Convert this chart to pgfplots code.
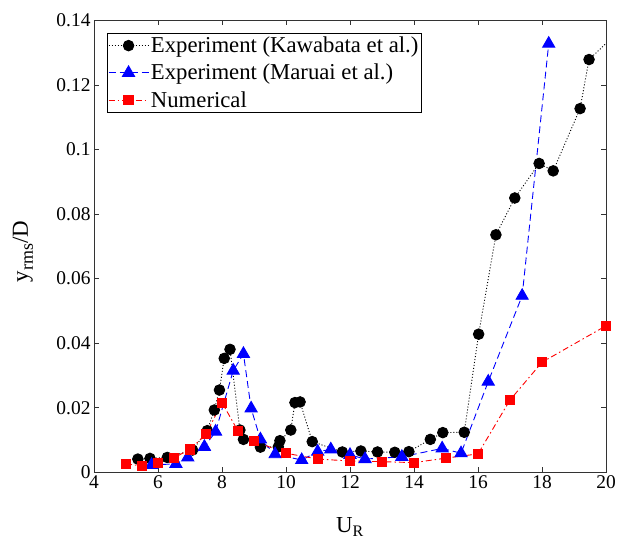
\documentclass[border=0pt]{standalone}
\usepackage{fontspec}
\setmainfont{Liberation Serif}
\usepackage{pgfplots}
\pgfplotsset{compat=1.18}

% Response amplitude of the cylinder against reduced velocity
\pgfplotstableread{
x y
5.37 0.0041
5.75 0.0043
6.29 0.0046
7.08 0.0069
7.54 0.0129
7.76 0.0193
7.92 0.0255
8.07 0.0353
8.25 0.0381
8.56 0.0131
8.67 0.0102
9.20 0.0078
9.76 0.0079
9.81 0.0098
10.15 0.0131
10.28 0.0216
10.44 0.0218
10.82 0.0095
11.76 0.0063
12.34 0.0066
12.86 0.0063
13.40 0.0062
13.84 0.0064
14.51 0.0102
14.90 0.0123
15.57 0.0124
16.02 0.0428
16.56 0.0736
17.15 0.0850
17.91 0.0957
18.35 0.0934
19.19 0.1127
19.47 0.1279
}\kawabata

\pgfplotstableread{
x y
5.80 0.0023
6.56 0.0026
6.93 0.0046
7.45 0.0079
7.80 0.0126
8.35 0.0315
8.67 0.0367
8.91 0.0198
9.20 0.0102
9.66 0.0056
10.49 0.0038
10.99 0.0064
11.40 0.0071
12.00 0.0054
12.47 0.0041
13.62 0.0048
14.88 0.0074
15.47 0.0059
16.32 0.0281
17.38 0.0547
18.21 0.1328
}\maruai

\pgfplotstableread{
x y
5.0 0.0026
5.5 0.0020
6.0 0.0028
6.5 0.0045
7.0 0.0071
7.5 0.0118
8.0 0.0216
8.5 0.0128
9.0 0.0097
10.0 0.0059
11.0 0.0041
12.0 0.0035
13.0 0.0033
14.0 0.0030
15.0 0.0044
16.0 0.0057
17.0 0.0224
18.0 0.0341
20.0 0.0454
}\numerical

\begin{document}
\begin{tikzpicture}
\begin{axis}[
  at={(0,0)}, anchor=south west,
  scale only axis,
  width=512bp, height=451.8bp,
  xmin=4, xmax=20, ymin=0, ymax=0.14,
  xtick={4,6,...,20},
  ytick={0,0.02,0.04,0.06,0.08,0.1,0.12,0.14},
  yticklabels={0,0.02,0.04,0.06,0.08,0.1,0.12,0.14},
  tick align=inside,
  major tick length=5bp,
  xtick pos=both, ytick pos=both,
  axis line style={line width=0.6bp, black!80},
  tick style={line width=0.6bp, black!80},
  /pgf/number format/assume math mode=true,
  tick label style={font=\fontsize{19.5}{22}\selectfont},
  label style={font=\fontsize{23}{26}\selectfont},
  xlabel={U\textsubscript{R}},
  ylabel={y{\fontsize{18}{18}\selectfont\raisebox{-5bp}{rms}}/D},
  xlabel style={at={(axis description cs:0.5,-0.1328)}, anchor=base},
  ylabel style={at={(axis description cs:-0.1289,0.489)}, anchor=base},
  legend style={
    at={(axis description cs:0.025,0.973)}, anchor=north west,
    font=\fontsize{22.8}{25}\selectfont,
    draw=black, line width=0.6bp,
    inner xsep=1bp, inner ysep=2bp,
    row sep=6bp,
    cells={anchor=west},
  },
  legend image code/.code={
    \draw[mark repeat=2,mark phase=2,#1] plot coordinates {(0bp,0bp) (20bp,0bp) (40bp,0bp)};
  },
  clip=true,
]
\addplot[black, line width=0.9bp, dash pattern=on 1bp off 2bp,
  mark=*, mark size=5.3bp, mark options={solid, fill=black}]
  table[x=x,y=y] {\kawabata};
\addlegendentry{Experiment (Kawabata et al.)}

\addplot[blue, line width=0.9bp, dash pattern=on 7bp off 4bp,
  mark=triangle*, mark size=7bp, mark options={solid, fill=blue}]
  table[x=x,y=y] {\maruai};
\addlegendentry{Experiment (Maruai et al.)}

\addplot[red, line width=0.9bp, dash pattern=on 6bp off 3bp on 1.5bp off 3bp,
  mark=square*, mark size=4.6bp, mark options={solid, fill=red}]
  table[x=x,y=y] {\numerical};
\addlegendentry{Numerical}

% trend of the Kawabata data past the right edge
\addplot[black, line width=0.9bp, dash pattern=on 1bp off 2bp, forget plot]
  coordinates {(19.47,0.1279) (20.5,0.1376)};
\end{axis}
\pgfresetboundingbox
\useasboundingbox (-94bp,-69.7bp) rectangle (523bp,472.3bp);
\end{tikzpicture}
\end{document}
